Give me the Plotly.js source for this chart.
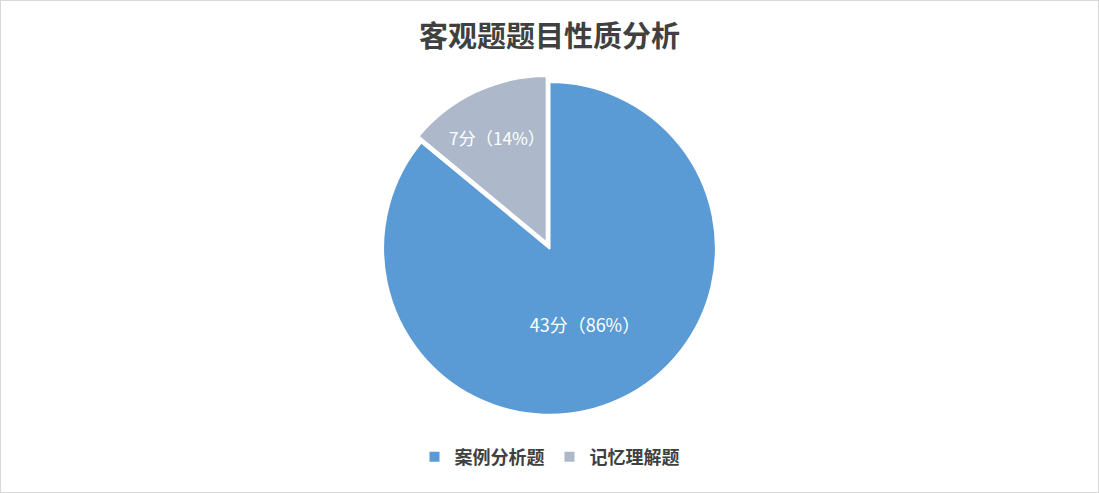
<!DOCTYPE html>
<html>
<head>
<meta charset="utf-8">
<script src="https://cdn.plot.ly/plotly-3.0.1.min.js"></script>
<style>
  html, body { margin: 0; padding: 0; background: #ffffff; }
  #chart { width: 1099px; height: 493px; }
</style>
</head>
<body>
<div id="chart"></div>
<script>
const categories = ['案例分析题', '记忆理解题'];
const values = [43, 7];
const colors = ['#5B9BD5', '#ADB9CA'];
const pulls = [0, 0.04];
const chartTitle = '客观题题目性质分析';

const trace = {
  type: 'pie',
  labels: categories,
  values: values,
  sort: false,
  direction: 'clockwise',
  rotation: 0,
  pull: pulls,
  marker: { colors: colors, line: { color: '#ffffff', width: 2 } },
  texttemplate: '%{value}分（%{percent}）',
  textposition: 'inside',
  insidetextorientation: 'horizontal',
  textfont: { family: 'Noto Sans CJK SC, sans-serif', size: 18, color: '#ffffff' },
  hoverinfo: 'label+value+percent',
  domain: { x: [0, 1], y: [0.145, 0.847] }
};

const layout = {
  width: 1099,
  height: 493,
  margin: { l: 0, r: 0, t: 0, b: 0 },
  paper_bgcolor: '#ffffff',
  title: {
    text: '<b>' + chartTitle + '</b>',
    font: { family: 'Noto Sans CJK SC, sans-serif', size: 29, color: '#404040' },
    x: 0.5, xanchor: 'center',
    y: 0.925, yanchor: 'middle'
  },
  showlegend: true,
  legend: {
    orientation: 'h',
    x: 0.5, xanchor: 'center',
    y: 0.073, yanchor: 'middle',
    font: { family: 'Noto Sans CJK SC, sans-serif', size: 18, color: '#404040', weight: 'bold' },
    itemwidth: 30,
    tracegroupgap: 0
  },
  shapes: [{
    type: 'rect', xref: 'paper', yref: 'paper',
    x0: 0, x1: 1, y0: 0, y1: 1,
    line: { color: '#D9D9D9', width: 2 }
  }]
};

Plotly.newPlot('chart', [trace], layout, { displayModeBar: false, staticPlot: true });
</script>
</body>
</html>
